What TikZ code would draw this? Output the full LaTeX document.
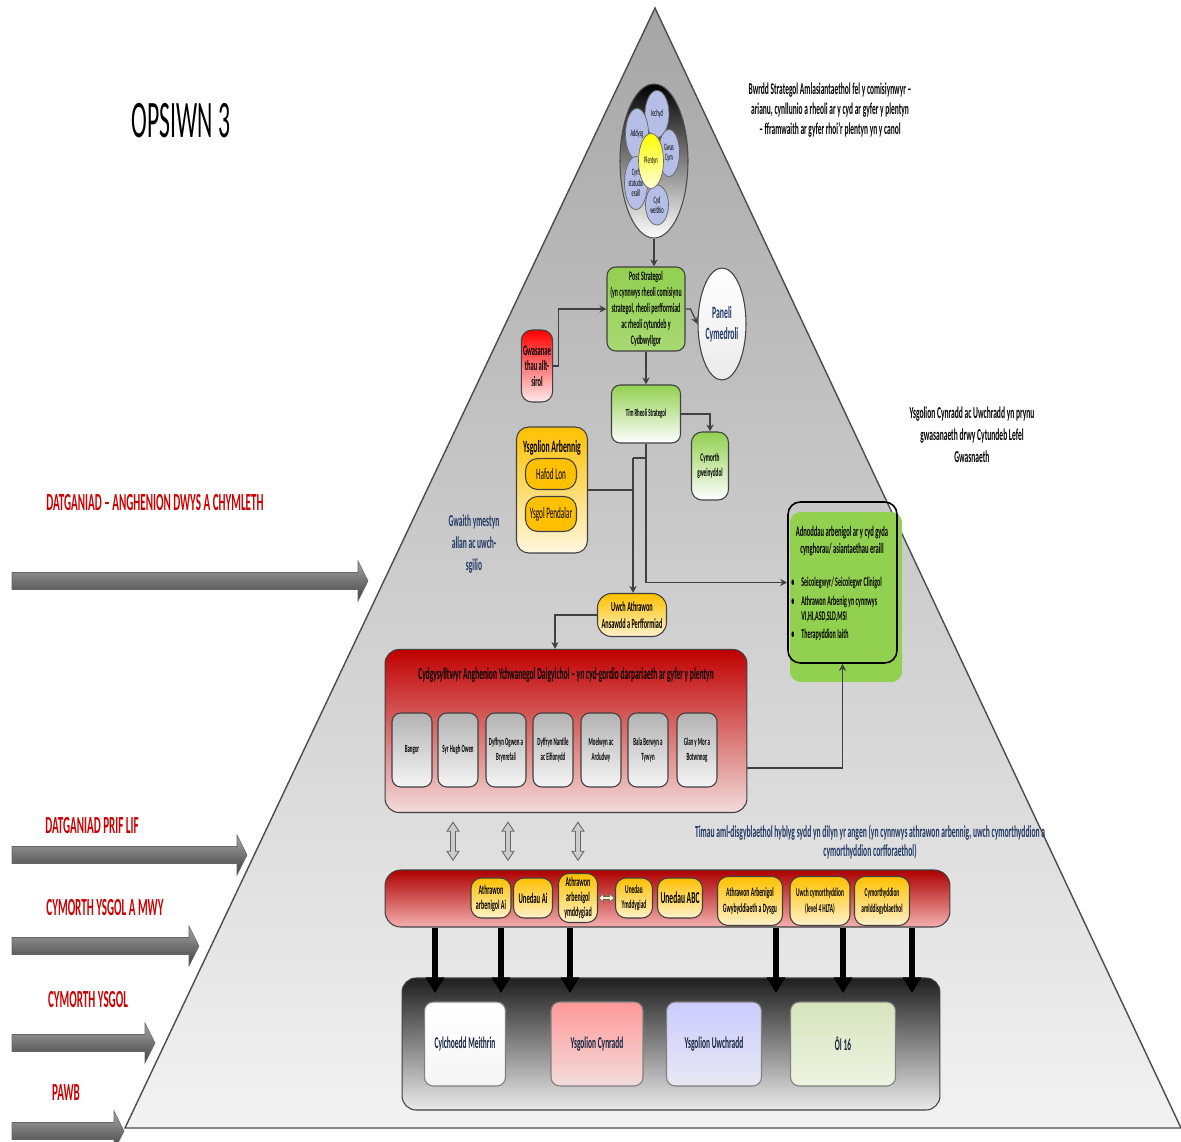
\documentclass[tikz,border=0pt]{standalone}
\usepackage{fontspec}
\setmainfont{Carlito}[FakeStretch = 0.45]
\newfontfamily\titlefont{Carlito}[FakeStretch = 0.45]
\usetikzlibrary{
    shapes.geometric,
    arrows.meta
}
\definecolor{pyramidtop}{RGB}{166,166,166}
\definecolor{pyramidbot}{RGB}{242,242,242}
\definecolor{boxred}{RGB}{192,0,0}
\definecolor{palered}{RGB}{242,220,219}
\definecolor{leafgreen}{RGB}{146,208,80}
\definecolor{gold}{RGB}{255,192,0}
\definecolor{palegold}{RGB}{255,242,204}
\definecolor{navy}{RGB}{31,56,100}
\definecolor{labelred}{RGB}{204,0,0}
\definecolor{petalblue}{RGB}{180,190,230}
\definecolor{lavender}{RGB}{204,204,255}
\definecolor{palelavender}{RGB}{232,232,242}
\definecolor{olive}{RGB}{215,228,189}
\definecolor{paleolive}{RGB}{238,243,226}

\newcommand{\fsz}[2]{\fontsize{#1}{#2}\selectfont}

\tikzset {
    pyramid/.style = {draw = black!70, line width = 0.8pt, top color = pyramidtop, bottom color = pyramidbot},
    panel box/.style = {draw = black!75, line width = 0.6pt, rounded corners = 5pt, inner sep = 1pt, align = center, font = \bfseries},
    green box/.style = {panel box, top color = leafgreen, bottom color = leafgreen!80!white},
    fade green/.style = {panel box, top color = leafgreen, bottom color = white},
    gold pill/.style = {panel box, rounded corners = 6pt, top color = gold, bottom color = palegold},
    grey box/.style = {panel box, rounded corners = 5pt, top color = black!30, bottom color = black!4},
    red panel/.style = {panel box, top color = boxred, bottom color = palered},
    petal/.style = {ellipse, draw = black!60, line width = 0.4pt, fill = petalblue, inner sep = 0pt, align = center, font = \fsz{5.6}{6}},
    flow arrow/.style = {draw = black!75, line width = 0.7pt, -{Stealth[length = 4pt, width = 4pt]}},
    flow line/.style = {draw = black!75, line width = 0.7pt},
    drop arrow/.style = {draw = black, line width = 3pt, -{Triangle[length = 9pt, width = 10pt]}, shorten > = -9pt},
    level label/.style = {text = labelred, font = \fsz{14}{16}\bfseries},
    level arrow/.style = {draw = black!60, line width = 0.3pt, top color = black!35, middle color = black!45, bottom color = black!75},
    plain note/.style = {align = center, font = \bfseries},
    %
    updown/.pic = {
        \draw [fill = black!20, draw = black!60, line width = 0.5pt]
            (0, -19) -- (6, -10) -- (2.5, -10) -- (2.5, 10) -- (6, 10) -- (0, 19)
            -- (-6, 10) -- (-2.5, 10) -- (-2.5, -10) -- (-6, -10) -- cycle;
    },
    sideways/.pic = {
        \draw [fill = palegold, draw = black!60, line width = 0.4pt]
            (-8, 0) -- (-3, -4) -- (-3, -1.5) -- (3, -1.5) -- (3, -4) -- (8, 0)
            -- (3, 4) -- (3, 1.5) -- (-3, 1.5) -- (-3, 4) -- cycle;
    }
}

\begin{document}
\begin{tikzpicture}[x = 0.02cm, y = -0.02cm]
    \path [use as bounding box, fill = white] (0, 0) rectangle (1181, 1142);
    \draw [pyramid] (655, 8) -- (1181, 1128) -- (125, 1128) -- cycle;

    % levels on the left
    \foreach \ya/\tip in {581/368, 855/247, 946/199, 1043/155, 1131/124}
        \shadedraw [level arrow] (12, \ya - 8.5) -- (\tip - 10, \ya - 8.5) -- (\tip - 10, \ya - 20)
            -- (\tip, \ya) -- (\tip - 10, \ya + 20) -- (\tip - 10, \ya + 8.5) -- (12, \ya + 8.5) -- cycle;
    \node [level label] (lbl dwys) at (155, 503) {DATGANIAD – ANGHENION DWYS A CHYMLETH};
    \node [level label] (lbl prif) at (92, 826) {DATGANIAD PRIF LIF};
    \node [level label] (lbl mwy) at (105, 908) {CYMORTH YSGOL A MWY};
    \node [level label] (lbl ysgol) at (88, 1000) {CYMORTH YSGOL};
    \node [level label] (lbl pawb) at (66, 1093) {PAWB};
    \node [font = \titlefont\fsz{30}{32}] (title) at (181, 121) {OPSIWN 3};

    % the child at the top
    \node [ellipse, draw = black!70, line width = 0.6pt, minimum width = 1.36cm, minimum height = 3.08cm,
        top color = black, middle color = black!50, bottom color = white] (hub) at (654, 161) {};
    \node [petal, minimum width = 0.48cm, minimum height = 0.94cm] (iechyd) at (657, 114) {Iechyd};
    \node [petal, minimum width = 0.46cm, minimum height = 1.02cm] (addysg) at (637, 134) {Addysg};
    \node [petal, minimum width = 0.42cm, minimum height = 0.94cm] (gwas) at (669, 153) {Gwas\\Cym};
    \node [petal, minimum width = 0.46cm, minimum height = 1.06cm] (cyrff) at (636, 183) {Cyrff\\statudol\\eraill};
    \node [petal, minimum width = 0.46cm, minimum height = 0.8cm] (cyd) at (657, 205) {Cyd\\weithio};
    \node [petal, minimum width = 0.5cm, minimum height = 1.1cm, top color = yellow, bottom color = yellow!15] (plentyn) at (651, 161) {Plentyn};
    \node [plain note, font = \fsz{9.4}{11.3}\bfseries] (bwrdd) at (830, 110)
        {Bwrdd Strategol Amlasiantaethol fel y comisiynwyr –\\arianu, cynllunio a rheoli ar y cyd ar gyfer y plentyn\\– fframwaith ar gyfer rhoi'r plentyn yn y canol};

    % strategic level
    \node [green box, minimum width = 1.56cm, minimum height = 1.68cm, font = \fsz{7.4}{9}\bfseries] (post) at (646, 309)
        {Post Strategol\\(yn cynnwys rheoli comisiynu\\strategol, rheoli perfformiad\\ac rheoli cytundeb y\\Cydbwyllgor};
    \node [ellipse, draw = black!75, line width = 0.6pt, top color = white, bottom color = black!8, minimum width = 0.96cm,
        minimum height = 2.24cm, inner sep = 0pt, align = center, text = navy, font = \fsz{9.8}{12}\bfseries] (paneli) at (722, 324) {Paneli\\Cymedroli};
    \node [red panel, rounded corners = 6pt, minimum width = 0.62cm, minimum height = 1.44cm, top color = red, bottom color = red!8,
        font = \fsz{8.2}{8.8}\bfseries] (allsirol) at (537, 366) {Gwasanae\\thau allt-\\sirol};
    \node [fade green, minimum width = 1.38cm, minimum height = 1.16cm, font = \fsz{6.1}{7}\bfseries] (tim) at (646, 414) {Tîm Rheoli Strategol};
    \node [fade green, rounded corners = 6pt, minimum width = 0.74cm, minimum height = 1.36cm, font = \fsz{6.7}{8.5}\bfseries] (gweinyddol) at (710, 466) {Cymorth\\gweinyddol};

    % special schools
    \node [panel box, rounded corners = 7pt, top color = gold, bottom color = palegold!60, minimum width = 1.42cm, minimum height = 2.52cm] (arbennig) at (552, 490) {};
    \node [plain note, font = \fsz{9.8}{11}\bfseries] (arbennig title) at (552, 448) {Ysgolion Arbennig};
    \node [panel box, rounded corners = 7pt, fill = gold, minimum width = 1.02cm, minimum height = 0.62cm, font = \fsz{9.1}{10}] (hafod) at (551, 474) {Hafod Lon};
    \node [panel box, rounded corners = 7pt, fill = gold, minimum width = 1.02cm, minimum height = 0.7cm, font = \fsz{9.1}{10}] (pendalar) at (551, 514) {Ysgol Pendalar};
    \node [plain note, text = navy, font = \fsz{9.5}{12.5}\bfseries] (gwaith) at (474, 544) {Gwaith ymestyn\\allan ac uwch-\\sgilio};
    \node [gold pill, rounded corners = 8pt, minimum width = 1.38cm, minimum height = 0.86cm, font = \fsz{7.9}{10}\bfseries] (uwch) at (632, 615)
        {Uwch Athrawon\\Ansawdd a Perfformiad};

    % shared resources
    \node [fill = leafgreen, rounded corners = 6pt, minimum width = 2.24cm, minimum height = 3.4cm] (adnoddau back) at (846, 597) {};
    \node [draw = black, line width = 0.9pt, rounded corners = 7pt, minimum width = 2.18cm, minimum height = 3.22cm] (adnoddau) at (842.5, 582.5) {};
    \node [plain note, font = \fsz{8.3}{10}\bfseries] (adnoddau title) at (842, 541) {Adnoddau arbenigol ar y cyd gyda\\cynghorau/ asiantaethau eraill};
    \node [align = left, anchor = north west, inner sep = 0pt, font = \fsz{7.6}{8.5}\bfseries] (adnoddau list) at (791, 577)
        {\textbullet\hspace{4pt}Seicolegwyr/ Seicolegwr Clinigol\\[2pt]
         \textbullet\hspace{4pt}Athrawon Arbenig yn cynnwys\\
         \phantom{\textbullet}\hspace{4pt}VI,HI,ASD,SLD,MSI\\[2pt]
         \textbullet\hspace{4pt}Therapyddion Iaith};
    \node [plain note, font = \fsz{9.5}{12.5}\bfseries] (cytundeb) at (972, 435)
        {Ysgolion Cynradd ac Uwchradd yn prynu\\gwasanaeth drwy Cytundeb Lefel\\Gwasnaeth};

    % area coordinators
    \node [red panel, rounded corners = 8pt, minimum width = 7.24cm, minimum height = 3.26cm] (cydgys) at (566, 731) {};
    \node [plain note, font = \fsz{9.5}{10}\bfseries] (cydgys title) at (566, 675)
        {Cydgysylltwyr Anghenion Ychwanegol Dalgylchol – yn cyd-gordio darpariaeth ar gyfer y plentyn};
    \foreach \x/\nm/\txt in {412/bangor/Bangor, 458/syrhugh/Syr Hugh Owen, 506/ogwen/{Dyffryn Ogwen a\\Brynrefail},
            553/nantlle/{Dyffryn Nantlle\\ac Eifionydd}, 601/moelwyn/{Moelwyn ac\\Ardudwy}, 648/bala/{Bala Berwyn a\\Tywyn},
            697/glanymor/{Glan y Mor a\\Botwnnog}}
        \node [grey box, minimum width = 0.8cm, minimum height = 1.48cm, font = \fsz{6.2}{8.5}\bfseries] (\nm) at (\x, 750) {\txt};

    % flexible teams
    \node [plain note, text = navy, font = \fsz{9.6}{10.8}\bfseries] (timau) at (870, 842)
        {Timau aml-disgyblaethol hyblyg sydd yn dilyn yr angen (yn cynnwys athrawon arbennig, uwch cymorthyddion a\\cymorthyddion corfforaethol)};
    \node [red panel, rounded corners = 9pt, top color = boxred!90!black, bottom color = palered!80!red, minimum width = 11.3cm, minimum height = 1.14cm] (bar) at (667.5, 898.5) {};
    \node [gold pill, minimum width = 0.8cm, minimum height = 0.8cm, font = \fsz{7.6}{8.5}\bfseries] (ai athro) at (491, 898) {Athrawon\\arbenigol Ai};
    \node [gold pill, minimum width = 0.78cm, minimum height = 0.8cm, font = \fsz{8.4}{9}\bfseries] (ai uned) at (533, 898) {Unedau Ai};
    \node [gold pill, minimum width = 0.78cm, minimum height = 0.98cm, font = \fsz{7.6}{8.5}\bfseries] (ymdd athro) at (578, 898) {Athrawon\\arbenigol\\ymddygiad};
    \node [gold pill, minimum width = 0.74cm, minimum height = 0.8cm, font = \fsz{6.8}{8.5}\bfseries] (ymdd uned) at (634, 898) {Unedau\\Ymddygiad};
    \node [gold pill, minimum width = 0.9cm, minimum height = 0.8cm, font = \fsz{9.5}{10}\bfseries] (abc) at (680, 898) {Unedau ABC};
    \node [gold pill, minimum width = 1.3cm, minimum height = 0.98cm, font = \fsz{7.2}{9}\bfseries] (gwybyddiaeth) at (750, 901) {Athrawon Arbenigol\\Gwybyddiaeth a Dysgu};
    \node [gold pill, minimum width = 1.2cm, minimum height = 0.98cm, font = \fsz{6.8}{9}\bfseries] (hlta) at (820, 901) {Uwch cymorthyddion\\(level 4 HLTA)};
    \node [gold pill, minimum width = 1.1cm, minimum height = 0.98cm, font = \fsz{6.8}{9}\bfseries] (amlddis) at (882, 901) {Cymorthyddion\\amlddisgyblaethol};

    % schools at the base
    \node [panel box, rounded corners = 8pt, top color = black!88, middle color = black!45, bottom color = black!8,
        minimum width = 10.76cm, minimum height = 2.64cm] (base) at (671, 1044) {};
    \node [panel box, draw = black!50, top color = white, bottom color = black!4, minimum width = 1.62cm, minimum height = 1.68cm,
        font = \fsz{9.4}{10}\bfseries, text = navy!60!black] (meithrin) at (465, 1044) {Cylchoedd Meithrin};
    \node [panel box, draw = black!50, top color = red!40, bottom color = palered, minimum width = 1.84cm, minimum height = 1.68cm,
        font = \fsz{9.4}{10}\bfseries, text = navy!60!black] (cynradd) at (597, 1044) {Ysgolion Cynradd};
    \node [panel box, draw = black!50, top color = lavender, bottom color = palelavender, minimum width = 1.9cm, minimum height = 1.68cm,
        font = \fsz{9.4}{10}\bfseries, text = navy!60!black] (uwchradd) at (714, 1044) {Ysgolion Uwchradd};
    \node [panel box, draw = black!50, top color = olive, bottom color = paleolive, minimum width = 2.1cm, minimum height = 1.68cm,
        font = \fsz{9.4}{10}\bfseries, text = navy!60!black] (olun) at (843, 1044) {Ôl 16};

    % connectors
    \draw [flow arrow] (hub.south) -- (hub.south |- post.north);
    \draw [flow arrow] (post.east) -- ++(5, 0) -- (paneli.west);
    \draw [flow arrow] (allsirol.east) -- ++(5, 0) |- (post.west);
    \draw [flow arrow] (post.south) -- (tim.north);
    \draw [flow arrow] (tim.east) -| (gweinyddol.north);
    \draw [flow arrow] (tim.south) |- (adnoddau.west);
    \coordinate (split) at (633, 458);
    \draw [flow line] (split -| tim.south) -- (split);
    \draw [flow line] (arbennig.east) -- (arbennig.east -| split);
    \draw [flow arrow] (split) -- (split |- uwch.north);
    \draw [flow arrow] (uwch.west) -| ([xshift = -0.22cm] cydgys.north);
    \draw [flow arrow] ([yshift = -0.74cm] cydgys.east) -| (adnoddau.south);
    \foreach \x in {453, 508, 578}
        \path (\x, 0 |- cydgys.south) -- (\x, 0 |- bar.north) pic [midway] {updown};
    \path (ymdd athro.east) -- (ymdd uned.west) pic [midway] {sideways};
    \foreach \x in {435, 501, 570, 776, 843, 912}
        \draw [drop arrow] (\x, 0 |- bar.south) -- (\x, 0 |- base.north);
\end{tikzpicture}
\end{document}
